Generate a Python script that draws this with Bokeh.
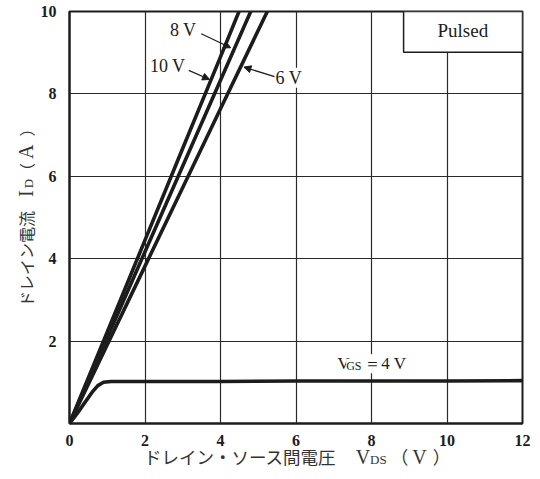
from bokeh.plotting import figure
from bokeh.models import Label, Arrow, NormalHead, BoxAnnotation, Div
from bokeh.layouts import row, column
from bokeh.embed import file_html
from bokeh.resources import INLINE

# ---- data (V_DS in V, I_D in A) ----
vds_10v = [0.0, 1.0, 2.0, 3.0, 4.0, 4.49]
id_10v = [0.0, 2.22, 4.45, 6.68, 8.9, 10.0]
vds_8v = [0.0, 1.0, 2.0, 3.0, 4.0, 4.80]
id_8v = [0.0, 2.08, 4.17, 6.25, 8.33, 10.0]
vds_6v = [0.0, 1.0, 2.0, 3.0, 4.0, 5.24]
id_6v = [0.0, 1.91, 3.82, 5.73, 7.64, 10.0]
vds_4v = [0.0, 0.2, 0.4, 0.6, 0.75, 0.9, 1.1, 2.0, 4.0, 6.0, 8.0, 10.0, 12.0]
id_4v = [0.0, 0.24, 0.5, 0.76, 0.92, 1.0, 1.02, 1.02, 1.02, 1.03, 1.03, 1.03, 1.04]

x_ticks = [0, 2, 4, 6, 8, 10, 12]
y_ticks = [2, 4, 6, 8, 10]

x_title = ("ドレイン・ソース間電圧", "V", "DS", "V")
y_title = ("ドレイン電流", "I", "D", "A")

INK = "#1c1c1c"
SERIF = "Liberation Serif"
JP = "Noto Sans CJK JP"

p = figure(width=504, height=448, x_range=(0, 12), y_range=(0, 10),
           output_backend="svg", toolbar_location=None,
           min_border_left=33, min_border_right=18, min_border_top=11, min_border_bottom=24)
p.background_fill_color = "white"
p.border_fill_color = "white"
p.outline_line_color = INK
p.outline_line_width = 2

for ax in (p.xaxis, p.yaxis):
    ax.axis_label = None
    ax.major_tick_line_color = None
    ax.minor_tick_line_color = None
    ax.axis_line_color = INK
    ax.axis_line_width = 2
    ax.major_label_text_font = SERIF
    ax.major_label_text_font_style = "bold"
    ax.major_label_text_font_size = "16px"
    ax.major_label_text_color = INK
p.xaxis.ticker = x_ticks
p.yaxis.ticker = y_ticks
p.xaxis.major_label_standoff = 5
p.yaxis.major_label_standoff = 7
p.xgrid.ticker = x_ticks
p.ygrid.ticker = y_ticks
for g in (p.xgrid, p.ygrid):
    g.grid_line_color = "#2a2a2a"
    g.grid_line_width = 1.2

for xs, ys in ((vds_10v, id_10v), (vds_8v, id_8v), (vds_6v, id_6v), (vds_4v, id_4v)):
    p.line(xs, ys, line_color=INK, line_width=3.6, line_join="round", line_cap="round")

# "Pulsed" box
p.add_layout(BoxAnnotation(left=8.85, right=12, bottom=9.01, top=10,
                           fill_color="white", fill_alpha=1.0,
                           line_color=INK, line_width=1.5, line_alpha=1.0))
p.add_layout(Label(x=10.42, y=9.53, text="Pulsed", text_font=SERIF, text_font_size="19px",
                   text_color=INK, text_align="center", text_baseline="middle"))

# curve labels
def lab(x, y, t, size="18px", bg=None, align="left"):
    l = Label(x=x, y=y, text=t, text_font=SERIF, text_font_size=size, text_color=INK,
              text_align=align, text_baseline="middle")
    if bg:
        l.background_fill_color = bg
        l.background_fill_alpha = 1.0
    p.add_layout(l)

lab(2.66, 9.55, "8 V")
lab(2.13, 8.67, "10 V")
lab(5.46, 8.39, "6 V", bg="white")
lab(7.10, 1.45, "V", size="17px", bg="white")
lab(7.33, 1.40, "GS", size="12px", bg="white")
lab(7.81, 1.45, "＝4 V", size="17px", bg="white")

def arrow(x0, y0, x1, y1):
    p.add_layout(Arrow(x_start=x0, y_start=y0, x_end=x1, y_end=y1,
                       line_color=INK, line_width=1.2,
                       end=NormalHead(size=7, fill_color=INK, line_color=INK)))

arrow(3.49, 9.46, 4.27, 9.12)
arrow(3.16, 8.57, 3.71, 8.35)
arrow(5.43, 8.42, 4.62, 8.65)

# axis titles with real subscripts (HTML text)
def title_html(parts, jp_size, gap, sub_gap, paren_gap, close_gap):
    main, sym, sub, unit = parts
    jp = f"font-family:'{JP}';font-size:{jp_size}px;"
    sf = f"font-family:'{SERIF}';"
    return (f"<span style=\"{jp}\">{main}</span>"
            f"<span style=\"display:inline-block;width:{gap}px;\"> </span>"
            f"<span style=\"{sf}font-size:20px;\">{sym}</span>"
            f"<span style=\"{sf}font-size:13px;margin-left:{sub_gap}px;\">{sub}</span>"
            f"<span style=\"{jp}margin-left:{paren_gap}px;\">（</span>"
            f"<span style=\"{sf}font-size:20px;margin-left:4px;\">{unit}</span>"
            f"<span style=\"{jp}margin-left:{close_gap}px;\">）</span>")

base = "white-space:nowrap;color:#333;line-height:1;"
ydiv = Div(width=36, height=448, margin=0,
           text=("<div style=\"position:relative;width:36px;height:448px;\">"
                 "<div style=\"position:absolute;left:26px;top:307px;transform-origin:0 0;"
                 "transform:rotate(-90deg) translateY(-50%);" + base + "\">"
                 + title_html(y_title, 16, 14, 2, 0, 8) + "</div></div>"))
xdiv = Div(width=540, height=30, margin=0,
           text=("<div style=\"position:relative;width:540px;height:30px;\">"
                 "<div style=\"position:absolute;left:144px;top:9px;"
                 "transform:translateY(-50%);" + base + "\">"
                 + title_html(x_title, 17.5, 20, 0, 4, 6) + "</div></div>"))

layout = column(row(ydiv, p, spacing=0), xdiv, spacing=0)

open("out.html", "w").write(file_html(layout, INLINE))
